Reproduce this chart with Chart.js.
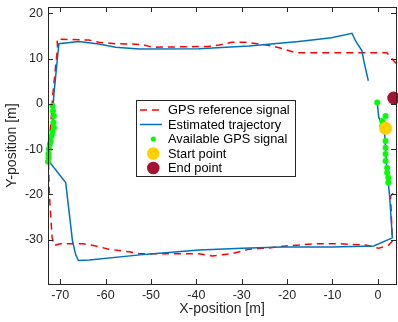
<!DOCTYPE html>
<html><head><meta charset="utf-8">
<script src="https://cdn.jsdelivr.net/npm/chart.js@4.4.1/dist/chart.umd.min.js"></script>
<style>html,body{margin:0;padding:0;background:#fff}canvas{display:block}</style>
</head><body>
<canvas id="c" width="398" height="322"></canvas>
<script>
const X_TICKS = [-70, -60, -50, -40, -30, -20, -10, 0];
const Y_TICKS = [-30, -20, -10, 0, 10, 20];
const X_LABEL = 'X-position [m]';
const Y_LABEL = 'Y-position [m]';
const LEGEND_LABELS = ['GPS reference signal', 'Estimated trajectory', 'Available GPS signal', 'Start point', 'End point'];

const gpsRefX = [-72.6,-72.4,-71.8,-71.3,-70,-65,-62.2,-59.3,-54.8,-52.6,-39.4,-36.5,-32.1,-28.4,-24.7,-20.3,-13.7,-8.6,-2.7,0.2,2.4,3.2,2.8,5.8,5.8,3.5,2,-18.1,-21.1,-23.3,-26.6,-29.1,-32.2,-35,-37.6,-49.7,-51.9,-54.1,-57.8,-61.5,-63.7,-70.7,-70.6,-71.6,-72.2,-72.6];
const gpsRefY = [-13,-20,-29.5,-31.3,-30.9,-30.9,-31.4,-32.1,-32.7,-33.1,-33.1,-33.6,-33.1,-32.1,-31.9,-31.4,-30.9,-30.9,-31.2,-31.9,-31.2,-30.3,-20.4,-17,7,9.5,11.3,11.3,12.2,12.8,13.3,13.6,13.6,13,12.7,12.5,13.1,13.2,13.3,13.6,14.1,14.3,12.5,2.5,-6,-13];

const estX = [-0.15,0.2,1.0,1.5,1.7,1.9,2.3,2.6,3.2,-0.9,-10.1,-21.1,-29.9,-39.4,-50.8,-63.6,-66,-66.6,-67.3,-68.8,-72.5,-72.6,-72.1,-71.6,-71.6,-71.4,-70.3,-65.9,-61.5,-57.8,-52.6,-39.4,-28.4,-17.4,-10.2,-5.7,-4.9,-3.5,-3.1,-2.1];
const estY = [0.5,-3,-4.6,-6.5,-10,-13.5,-17.4,-20.5,-29.6,-31.4,-31.6,-31.6,-31.9,-32.3,-33.2,-34.5,-34.6,-33.3,-30.3,-17.4,-12.7,-11,-8.2,-5,-1,2.1,13.3,13.8,13.2,12.5,12.1,12.2,12.8,13.8,14.6,15.6,13.9,11.7,9.5,5.1];

const availX = [-71.7,-71.6,-71.4,-71.5,-71.4,-71.7,-71.9,-72.1,-72.3,-72.5,-72.6,-72.6,-72.7,-0.15,0.95,1.7,1.3,0.95,1.7,1.7,1.7,1.7,1.7,2.05,2.05,2.3,2.3];
const availY = [-0.4,-1.5,-2.7,-4.1,-5.2,-6.3,-7.1,-8.2,-8.9,-10,-11.1,-11.9,-12.8,0.3,-3.8,-2.7,-4.5,-4.9,-6,-8.2,-9.7,-11.1,-12.6,-14.1,-15.2,-16.3,-17.4];

const startX = [1.7], startY = [-5.4];
const endX = [3.5], endY = [1.3];

const pts = (xs, ys) => xs.map((x, i) => ({x: x, y: ys[i]}));
const FONT = 'Liberation Sans, Arial, Helvetica, sans-serif';
const AX = '#262626';

const framePlugin = {
  id: 'frame',
  afterDatasetsDraw(chart) {
    const ctx = chart.ctx, a = chart.chartArea;
    const xs = chart.scales.x, ys = chart.scales.y;
    ctx.save();
    ctx.strokeStyle = AX; ctx.lineWidth = 1;
    ctx.beginPath();
    X_TICKS.forEach(v => {
      const p = Math.round(xs.getPixelForValue(v)) + 0.5;
      ctx.moveTo(p, a.bottom); ctx.lineTo(p, a.bottom - 5);
      ctx.moveTo(p, a.top); ctx.lineTo(p, a.top + 5);
    });
    Y_TICKS.forEach(v => {
      const p = Math.round(ys.getPixelForValue(v)) + 0.5;
      ctx.moveTo(a.left, p); ctx.lineTo(a.left + 5, p);
      ctx.moveTo(a.right, p); ctx.lineTo(a.right - 5, p);
    });
    ctx.stroke();
    ctx.strokeRect(Math.round(a.left) + 0.5, Math.round(a.top) + 0.5, Math.round(a.right - a.left), Math.round(a.bottom - a.top));
    ctx.restore();
  },
  afterDraw(chart) {
    const ctx = chart.ctx, ds = chart.data.datasets;
    ctx.save();
    const bx = 136.5, by = 100.5, bw = 159, bh = 76;
    ctx.fillStyle = '#fff'; ctx.fillRect(bx, by, bw, bh);
    ctx.strokeStyle = AX; ctx.lineWidth = 1; ctx.strokeRect(bx, by, bw, bh);
    ctx.font = '12.8px ' + FONT;
    ctx.textBaseline = 'middle'; ctx.textAlign = 'left';
    LEGEND_LABELS.forEach((t, i) => {
      const y = 110 + i * 14.5;
      const d = ds[i];
      if (i < 2) {
        ctx.beginPath();
        ctx.strokeStyle = d.borderColor; ctx.lineWidth = d.borderWidth;
        ctx.setLineDash(d.borderDash || []);
        ctx.moveTo(140, y); ctx.lineTo(162, y); ctx.stroke();
        ctx.setLineDash([]);
      } else {
        ctx.beginPath();
        ctx.fillStyle = d.backgroundColor;
        ctx.arc(153.3, y, i === 2 ? 2.6 : 6.3, 0, Math.PI * 2);
        ctx.fill();
      }
      ctx.fillStyle = '#000';
      ctx.fillText(t, 168, y + 0.5);
    });
    ctx.restore();
  }
};

new Chart(document.getElementById('c'), {
  type: 'scatter',
  data: {
    datasets: [
      {label: LEGEND_LABELS[0], data: pts(gpsRefX, gpsRefY), showLine: true, borderColor: '#ff0000', backgroundColor: '#ff0000', borderWidth: 1.5, borderDash: [7, 5], pointRadius: 0, order: 5},
      {label: LEGEND_LABELS[1], data: pts(estX, estY), showLine: true, borderColor: '#0072bd', backgroundColor: '#0072bd', borderWidth: 1.5, pointRadius: 0, order: 4},
      {label: LEGEND_LABELS[2], data: pts(availX, availY), showLine: false, backgroundColor: '#00ff00', borderWidth: 0, pointRadius: 3, order: 3, clip: false},
      {label: LEGEND_LABELS[3], data: pts(startX, startY), showLine: false, backgroundColor: '#ffd000', borderWidth: 0, pointRadius: 6.5, order: 2, clip: false},
      {label: LEGEND_LABELS[4], data: pts(endX, endY), showLine: false, backgroundColor: '#a2142f', borderWidth: 0, pointRadius: 6.5, order: 1, clip: false}
    ]
  },
  options: {
    responsive: false, animation: false, devicePixelRatio: 1,
    layout: {autoPadding: false, padding: {top: 7, right: 2, left: 0, bottom: 0}},
    plugins: {legend: {display: false}, tooltip: {enabled: false}},
    scales: {
      x: {
        type: 'linear', min: -72.7, max: 4,
        afterBuildTicks: s => { s.ticks = X_TICKS.map(v => ({value: v})); },
        afterFit: s => { s.height = 38; s.paddingLeft = 0; s.paddingRight = 0; },
        grid: {display: false, drawTicks: false, tickLength: 0},
        border: {display: false},
        ticks: {font: {family: FONT, size: 12.5}, color: AX, padding: 4, maxRotation: 0, autoSkip: false},
        title: {display: true, text: X_LABEL, font: {family: FONT, size: 14}, color: AX, padding: {top: 0, bottom: 4}}
      },
      y: {
        type: 'linear', min: -39.8, max: 21.4,
        afterBuildTicks: s => { s.ticks = Y_TICKS.map(v => ({value: v})); },
        afterFit: s => { s.width = 48; s.paddingTop = 0; s.paddingBottom = 0; },
        grid: {display: false, drawTicks: false, tickLength: 0},
        border: {display: false},
        ticks: {font: {family: FONT, size: 12.5}, color: AX, padding: 5, autoSkip: false},
        title: {display: true, text: Y_LABEL, font: {family: FONT, size: 14}, color: AX, padding: {top: 4, bottom: 0}}
      }
    }
  },
  plugins: [framePlugin]
});
</script>
</body></html>
